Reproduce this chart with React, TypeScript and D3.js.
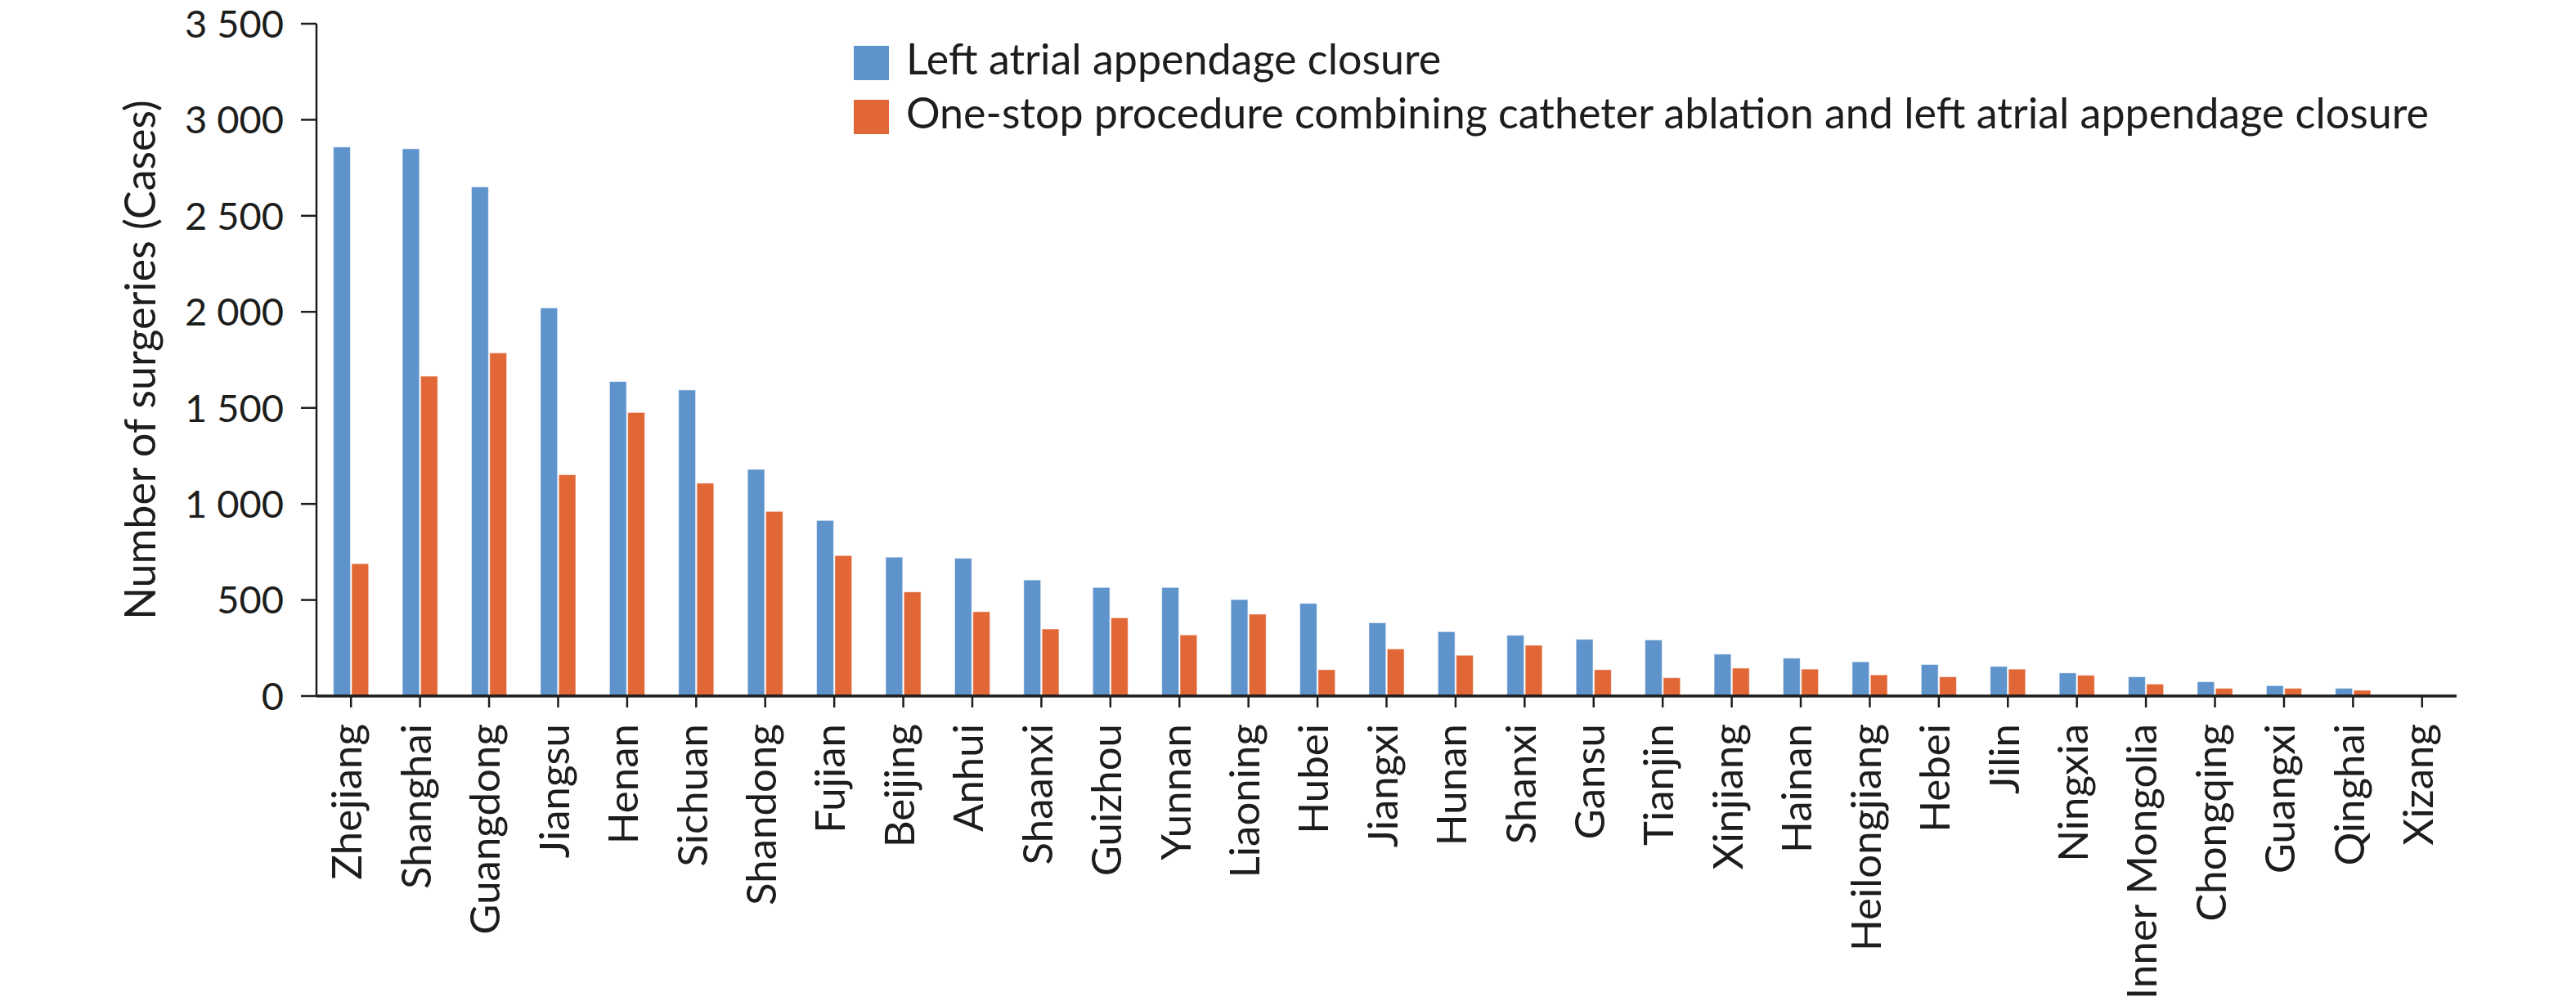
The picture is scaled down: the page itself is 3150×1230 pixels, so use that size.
import * as d3 from 'd3';

const provinces = [
    'Zhejiang', 'Shanghai', 'Guangdong', 'Jiangsu', 'Henan', 'Sichuan', 'Shandong', 'Fujian',
    'Beijing', 'Anhui', 'Shaanxi', 'Guizhou', 'Yunnan', 'Liaoning', 'Hubei', 'Jiangxi',
    'Hunan', 'Shanxi', 'Gansu', 'Tianjin', 'Xinjiang', 'Hainan', 'Heilongjiang', 'Hebei',
    'Jilin', 'Ningxia', 'Inner Mongolia', 'Chongqing', 'Guangxi', 'Qinghai', 'Xizang',
];

// left atrial appendage closure
const laacCases = [
    2858, 2849, 2650, 2020, 1637, 1593, 1180, 914,
    723, 717, 604, 565, 565, 502, 482, 381,
    335, 316, 295, 292, 218, 197, 178, 164,
    154, 120, 100, 74, 54, 40, 0,
];

// one-stop procedure (ablation + closure)
const oneStopCases = [
    689, 1665, 1786, 1152, 1476, 1108, 961, 731,
    542, 439, 349, 407, 318, 426, 137, 245,
    212, 264, 137, 95, 145, 140, 110, 100,
    140, 108, 62, 40, 40, 30, 0,
];

const seriesNames = [
    'Left atrial appendage closure',
    'One-stop procedure combining catheter ablation and left atrial appendage closure',
];
const seriesColors = ['#5F93CB', '#E16737'];

const yTicks = [0, 500, 1000, 1500, 2000, 2500, 3000, 3500];

const W = 3150;
const H = 1230;
const left = 387;
const right = 3004;
const top = 29;
const bottom = 851;
const FONT = 'Lato, "Open Sans", sans-serif';
const INK = '#1d1d1b';

export default function App() {
    const x = d3.scaleBand<string>().domain(provinces).range([left, right]).padding(0);
    const bw = x.bandwidth();
    const x1 = d3.scaleBand<number>()
        .domain([0, 1])
        .range([bw * 0.245, bw * 0.755])
        .paddingInner(0.07);
    const y = d3.scaleLinear().domain([0, 3500]).range([bottom, top]);
    const fmt = (v: number) => d3.format(',')(v).replace(/,/g, ' ');

    const series = [laacCases, oneStopCases];

    return (
        <>
            <style>{`body{margin:0}`}</style>
            <svg width={W} height={H} style={{ display: 'block', background: '#fff' }} fontFamily={FONT}>
                {/* bars */}
                {series.map((vals, s) => (
                    <g key={s}>
                        {provinces.map((p, i) =>
                            vals[i] > 0 ? (
                                <rect
                                    key={p}
                                    x={x(p)! + x1(s)!}
                                    y={y(vals[i])}
                                    width={x1.bandwidth()}
                                    height={y(0) - y(vals[i])}
                                    fill={seriesColors[s]}
                                    stroke="#fff"
                                    strokeOpacity={0.5}
                                    strokeWidth={1}
                                />
                            ) : null,
                        )}
                    </g>
                ))}

                {/* y axis */}
                <line x1={left} x2={left} y1={top} y2={bottom} stroke={INK} strokeWidth={2.5} />
                {yTicks.map((t) => (
                    <g key={t} transform={`translate(0,${y(t)})`}>
                        <line x1={left - 19} x2={left} stroke={INK} strokeWidth={2.5} />
                        <text x={left - 40} dy="0.36em" textAnchor="end" fontSize={47} fill={INK}>
                            {fmt(t)}
                        </text>
                    </g>
                ))}
                <text
                    transform={`translate(190,${(top + bottom) / 2}) rotate(-90)`}
                    textAnchor="middle"
                    fontSize={52}
                    fill={INK}
                >
                    Number of surgeries (Cases)
                </text>

                {/* x axis */}
                <line x1={left} x2={right} y1={bottom} y2={bottom} stroke={INK} strokeWidth={3.5} />
                {provinces.map((p) => {
                    const cx = x(p)! + bw / 2;
                    return (
                        <g key={p}>
                            <line x1={cx} x2={cx} y1={bottom} y2={bottom + 14} stroke={INK} strokeWidth={2.5} />
                            <text
                                transform={`translate(${cx},${bottom + 34}) rotate(-90)`}
                                textAnchor="end"
                                dy="0.26em"
                                fontSize={51}
                                fill={INK}
                            >
                                {p}
                            </text>
                        </g>
                    );
                })}

                {/* legend */}
                {seriesNames.map((name, i) => (
                    <g key={name} transform={`translate(1044,${56 + i * 66})`}>
                        <rect width={43} height={42} fill={seriesColors[i]} />
                        <text x={64} y={35} fontSize={52} fill={INK}>
                            {name}
                        </text>
                    </g>
                ))}
            </svg>
        </>
    );
}
